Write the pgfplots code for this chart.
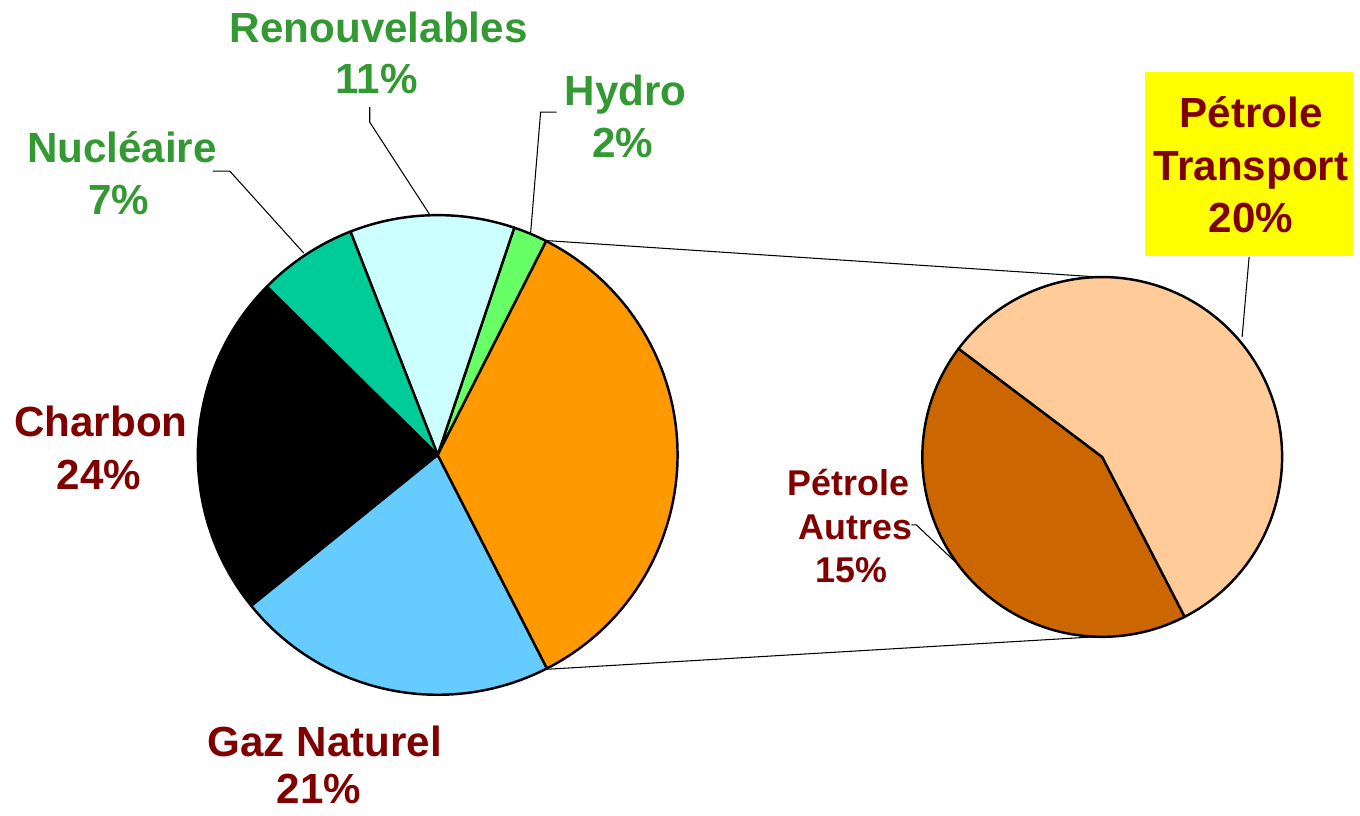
\documentclass[border=0pt]{standalone}
\usepackage{pgfplots}
\pgfplotsset{compat=1.18}
\usepackage{pgfplotstable}
\usepackage{fontspec}
\setmainfont{Liberation Sans}

\definecolor{cHydro}{HTML}{66FF66}
\definecolor{cRenouv}{HTML}{CCFFFF}
\definecolor{cNuc}{HTML}{00CC99}
\definecolor{cCharbon}{HTML}{000000}
\definecolor{cGaz}{HTML}{66CCFF}
\definecolor{cPetrole}{HTML}{FF9900}
\definecolor{cTransport}{HTML}{FFCC99}
\definecolor{cAutres}{HTML}{CC6600}
\definecolor{txtgreen}{HTML}{339933}
\definecolor{txtred}{HTML}{800000}
\definecolor{boxyellow}{HTML}{FFFF00}

% main pie, counter-clockwise from the top edge of the Petrole slice
% (shares as drawn in the picture; the labels carry the rounded values)
\pgfplotstableread{
name share col
Hydro 2.3 cHydro
Renouvelables 11.1 cRenouv
Nucleaire 6.7 cNuc
Charbon 23.2 cCharbon
Gaz 21.7 cGaz
Petrole 35.0 cPetrole
}\mainpie

% second pie: split of Petrole (35 %)
\pgfplotstableread{
name share col
Autres 15 cAutres
Transport 20 cTransport
}\subpie

\newcommand\lbl[4]{\node[anchor=base,text=#3,font=\fontsize{12}{14}\selectfont\bfseries] at (axis cs:#1,#2) {#4};}
\newcommand\slbl[3]{\node[anchor=base,text=txtred,font=\fontsize{10.2}{12}\selectfont\bfseries] at (axis cs:#1,#2) {#3};}

\begin{document}
\begin{tikzpicture}
\begin{axis}[
  width=136mm, height=80.9mm, scale only axis,
  xmin=0, xmax=1360, ymin=0, ymax=809,
  hide axis, clip=false]

\path (axis cs:0,0) rectangle (axis cs:1360,809);

% connector lines between the pies
\draw[line width=0.3pt] (axis cs:545.4,568.6) -- (axis cs:1100,532);
\draw[line width=0.3pt] (axis cs:545.4,139.4) -- (axis cs:1096,172);

% main pie
\pgfmathsetmacro\angA{63.1}
\pgfplotsforeachungrouped \i in {0,...,5}{%
  \pgfplotstablegetelem{\i}{share}\of\mainpie \let\sh\pgfplotsretval
  \pgfplotstablegetelem{\i}{col}\of\mainpie \let\wc\pgfplotsretval
  \pgfmathsetmacro\angB{\angA+3.6*\sh}
  \edef\next{\noexpand\filldraw[fill=\wc,draw=black,line width=0.7pt,line join=round]
    (axis cs:438,354) -- ++(\angA:24mm) arc[start angle=\angA,end angle=\angB,radius=24mm] -- cycle;}
  \next
  \let\angA\angB
}

% second pie
\pgfmathsetmacro\angA{143}
\pgfplotsforeachungrouped \i in {0,1}{%
  \pgfplotstablegetelem{\i}{share}\of\subpie \let\sh\pgfplotsretval
  \pgfplotstablegetelem{\i}{col}\of\subpie \let\wc\pgfplotsretval
  \pgfmathsetmacro\angB{\angA+360/35*\sh}
  \edef\next{\noexpand\filldraw[fill=\wc,draw=black,line width=0.7pt,line join=round]
    (axis cs:1103,352) -- ++(\angA:18mm) arc[start angle=\angA,end angle=\angB,radius=18mm] -- cycle;}
  \next
  \let\angA\angB
}

% leader lines
\draw[line width=0.3pt] (axis cs:213,638) -- (axis cs:230,638) -- (axis cs:304,556);
\draw[line width=0.3pt] (axis cs:370,702) -- (axis cs:370,687) -- (axis cs:431,593);
\draw[line width=0.3pt] (axis cs:557,697) -- (axis cs:541,697) -- (axis cs:531,576);
\draw[line width=0.3pt] (axis cs:1250,552) -- (axis cs:1243,472);
\draw[line width=0.3pt] (axis cs:912,284) -- (axis cs:917,284) -- (axis cs:957,246);

% labels
\lbl{379}{767}{txtgreen}{Renouvelables}
\lbl{377}{716}{txtgreen}{11\%}
\lbl{626}{704}{txtgreen}{Hydro}
\lbl{623}{652}{txtgreen}{2\%}
\lbl{122}{647}{txtgreen}{Nucléaire}
\lbl{119}{595}{txtgreen}{7\%}
\lbl{101}{372}{txtred}{Charbon}
\lbl{99}{319}{txtred}{24\%}
\lbl{325}{52}{txtred}{Gaz Naturel}
\lbl{319}{5}{txtred}{21\%}

\fill[boxyellow] (axis cs:1146,553) rectangle (axis cs:1354,737);
\lbl{1252}{682}{txtred}{Pétrole}
\lbl{1252}{629}{txtred}{Transport}
\lbl{1252}{577}{txtred}{20\%}

\slbl{849}{313}{Pétrole}
\slbl{856}{269}{Autres}
\slbl{852}{226}{15\%}
\end{axis}
\end{tikzpicture}
\end{document}
